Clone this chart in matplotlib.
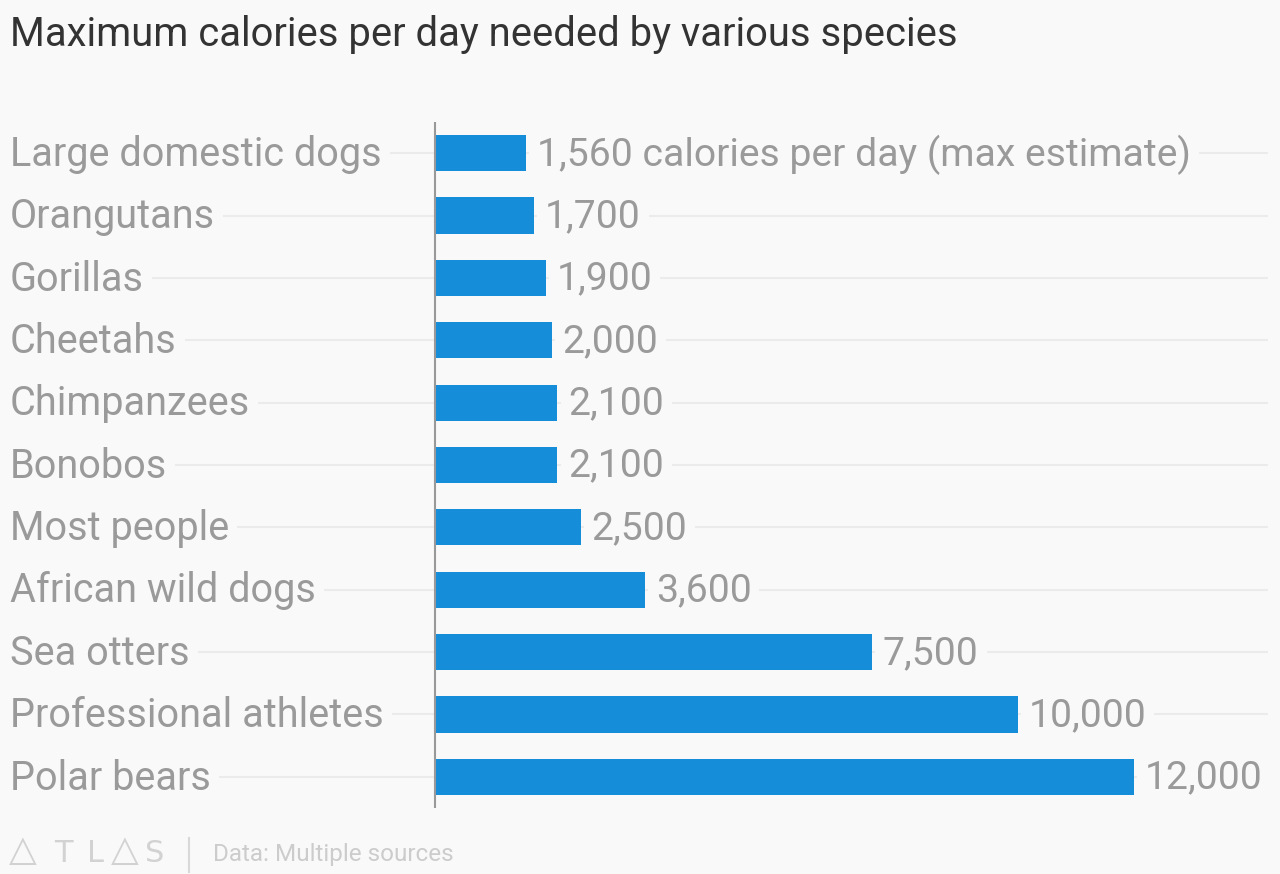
import matplotlib.pyplot as plt
import matplotlib.lines as mlines

plt.rcParams['font.family'] = ['Roboto', 'DejaVu Sans']

species = ["Large domestic dogs", "Orangutans", "Gorillas", "Cheetahs", "Chimpanzees",
           "Bonobos", "Most people", "African wild dogs", "Sea otters",
           "Professional athletes", "Polar bears"]
calories = [1560, 1700, 1900, 2000, 2100, 2100, 2500, 3600, 7500, 10000, 12000]
value_labels = ["1,560 calories per day (max estimate)", "1,700", "1,900", "2,000", "2,100",
                "2,100", "2,500", "3,600", "7,500", "10,000", "12,000"]

bg = "#f9f9f9"
blue = "#168dd9"
gray = "#9a9a9a"

fig = plt.figure(figsize=(12.8, 8.74), dpi=100, facecolor=bg)
ax = fig.add_axes([10/1280, 66/874, 1258/1280, 686/874])
ax.set_facecolor(bg)

# x=0 sits at pixel 435, 12000 at pixel 1134
scale = (1134 - 435) / 12000.0
xmin = -425 / scale
xmax = 833 / scale
ax.set_xlim(xmin, xmax)
ax.set_ylim(len(species) - 0.5, -0.5)

ypos = list(range(len(species)))
for y in ypos:
    ax.axhline(y, color="#ebebeb", lw=1.5, zorder=0)

ax.barh(ypos, calories, height=0.58, color=blue, zorder=2)
ax.axvline(0, color="#999999", lw=1.5, zorder=3)

for y, name in zip(ypos, species):
    ax.text(xmin, y + 0.02, name, ha="left", va="center", fontsize=28.5, color=gray, zorder=1,
            bbox=dict(boxstyle="square,pad=0.2", fc=bg, ec="none"))

for y, v, lab in zip(ypos, calories, value_labels):
    ax.annotate(lab, (v, y + 0.02), xytext=(8, 0), textcoords="offset points",
                ha="left", va="center", fontsize=28.2, color=gray, zorder=1,
                bbox=dict(boxstyle="square,pad=0.2", fc=bg, ec="none"))

for s in ax.spines.values():
    s.set_visible(False)
ax.set_xticks([])
ax.set_yticks([])

fig.text(10/1280, 1 - 34/874, "Maximum calories per day needed by various species",
         fontsize=28.8, color="#333333", ha="left", va="center")

# footer: ATLAS logo, letter by letter
logo = [(23, "\u25b3", 26, 851), (63, "T", 22, 854), (95, "L", 22, 854),
        (125, "\u25b3", 26, 851), (155, "S", 22, 854)]
for cx, ch, fs, cy in logo:
    fig.text(cx/1280, 1 - cy/874, ch, fontsize=fs, color="#d2d2d2",
             ha="center", va="center", family=["DejaVu Sans"])
fig.add_artist(mlines.Line2D([189/1280, 189/1280], [1 - 838/874, 1 - 872/874],
                             color="#d8d8d8", lw=1.5))
fig.text(213/1280, 1 - 854/874, "Data: Multiple sources", fontsize=17.5, color="#cccccc",
         ha="left", va="center")

fig.savefig("out.png", dpi=100, facecolor=bg)
